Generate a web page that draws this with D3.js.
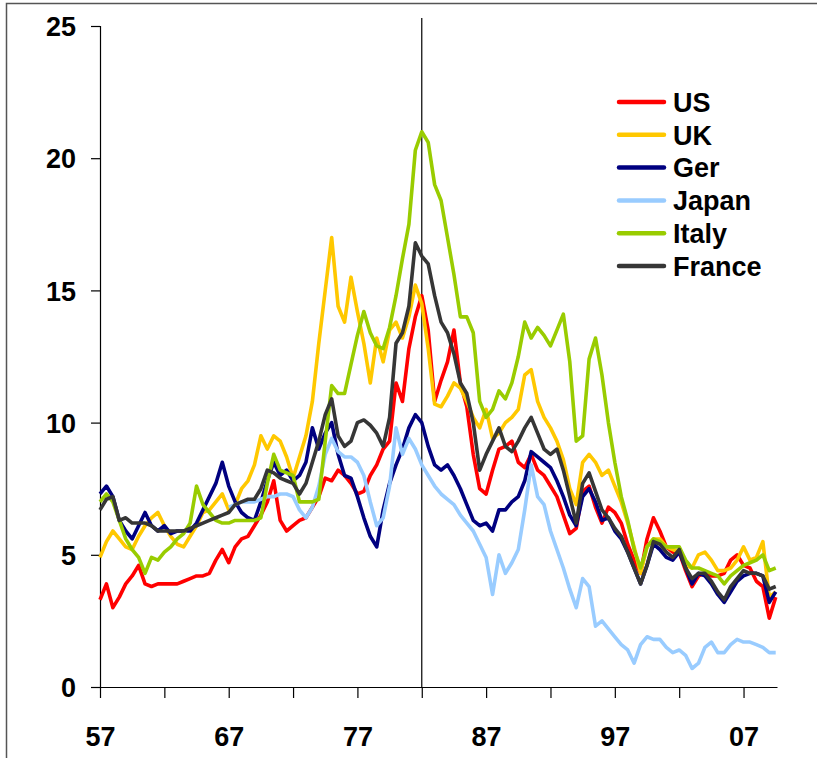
<!DOCTYPE html>
<html>
<head>
<meta charset="utf-8">
<script src="https://cdn.jsdelivr.net/npm/d3@7"></script>
<style>
  body { margin: 0; background: #fff; }
  svg { display: block; font-family: "Liberation Sans", Arial, sans-serif; }
</style>
</head>
<body>
<svg id="chart" width="817" height="758"></svg>
<script>
// half-yearly readings, 1957.0 .. 2009.5
const startYear = 1957;
const step = 0.5;

const us = [
  3.3, 3.9, 3.0, 3.4, 3.9, 4.2, 4.6, 3.9, 3.8, 3.9,
  3.9, 3.9, 3.9, 4.0, 4.1, 4.2, 4.2, 4.3, 4.8, 5.2,
  4.7, 5.3, 5.6, 5.7, 6.1, 6.5, 7.0, 7.8, 6.3, 5.9,
  6.1, 6.3, 6.4, 6.8, 7.2, 7.9, 7.8, 8.2, 8.0, 7.7,
  7.3, 7.4, 8.0, 8.4, 9.0, 9.3, 11.5, 10.8, 12.8, 14.0,
  14.8, 13.5, 10.8, 11.6, 12.3, 13.5, 11.5, 10.6, 8.8, 7.5,
  7.3, 8.2, 9.0, 9.1, 9.3, 8.5, 8.3, 8.8, 8.2, 8.0,
  7.6, 7.2, 6.5, 5.8, 6.0, 7.4, 7.6, 6.8, 6.2, 6.8,
  6.6, 6.2, 5.4, 4.8, 4.3, 5.6, 6.4, 5.9, 5.3, 5.1,
  5.1, 4.4, 3.8, 4.2, 4.3, 4.2, 4.2, 4.3, 4.8, 5.0,
  4.6, 4.5, 4.0, 3.8, 2.6, 3.4
];

const uk = [
  4.9, 5.5, 5.9, 5.6, 5.3, 5.2, 5.7, 6.1, 6.4, 6.6,
  6.1, 5.7, 5.4, 5.3, 5.7, 6.1, 6.6, 6.7, 7.0, 7.3,
  6.7, 6.9, 7.5, 7.8, 8.4, 9.5, 9.0, 9.5, 9.3, 8.7,
  7.9, 8.7, 9.5, 10.8, 13.0, 15.0, 17.0, 14.4, 13.8, 15.5,
  14.2, 13.0, 11.5, 13.2, 12.3, 13.5, 13.8, 13.2, 14.0, 15.2,
  14.5, 12.8, 10.7, 10.6, 11.0, 11.5, 11.3, 10.8, 10.2, 9.8,
  10.5, 9.4, 9.6, 10.0, 10.2, 10.5, 11.8, 12.0, 10.8, 10.2,
  9.8, 9.3, 8.6, 7.5, 6.9, 8.5, 8.8, 8.5, 8.0, 8.2,
  7.6, 7.0, 6.2, 5.3, 4.3, 5.3, 5.6, 5.6, 5.3, 5.2,
  5.1, 4.6, 4.5, 5.0, 5.1, 4.8, 4.4, 4.4, 4.5, 4.8,
  5.3, 4.8, 4.9, 5.5, 3.4, 3.6
];

const ger = [
  7.3, 7.6, 7.2, 6.3, 5.9, 5.6, 6.1, 6.6, 6.1, 5.9,
  6.1, 5.8, 5.9, 5.9, 5.9, 6.2, 6.7, 7.2, 7.7, 8.5,
  7.6, 7.0, 6.6, 6.4, 6.3, 7.0, 7.8, 8.5, 8.0, 8.2,
  7.8, 8.0, 8.5, 9.8, 9.0, 9.6, 10.0, 8.8, 8.0, 7.9,
  7.2, 6.4, 5.7, 5.3, 6.7, 7.7, 8.4, 9.0, 9.8, 10.3,
  10.0, 9.1, 8.4, 8.2, 8.4, 8.0, 7.5, 6.9, 6.3, 6.1,
  6.2, 5.9, 6.7, 6.7, 7.0, 7.2, 7.8, 8.9, 8.7, 8.5,
  8.3, 7.8, 7.2, 6.5, 6.1, 7.2, 7.5, 7.0, 6.3, 6.4,
  5.9, 5.6, 5.1, 4.5, 3.9, 4.6, 5.4, 5.2, 4.9, 4.8,
  5.1, 4.5, 3.9, 4.3, 4.2, 3.9, 3.5, 3.2, 3.6, 4.0,
  4.2, 4.3, 4.3, 4.2, 3.2, 3.6
];

const japan = [
  null, null, null, null, null, null, null, null, null, null,
  null, null, null, null, null, null, null, null, null, null,
  6.8, 6.9, 7.0, 7.0, 7.0, 7.1, 7.2, 7.2, 7.3, 7.3,
  7.2, 6.7, 6.4, 6.8, 7.6, 8.8, 9.4, 8.9, 8.7, 8.7,
  8.5, 8.0, 7.0, 6.1, 6.4, 7.6, 9.8, 8.8, 9.4, 9.0,
  8.4, 8.0, 7.6, 7.3, 7.1, 6.9, 6.5, 6.2, 5.9, 5.4,
  4.9, 3.5, 5.0, 4.3, 4.7, 5.2, 6.7, 8.4, 7.2, 6.9,
  5.9, 5.2, 4.5, 3.7, 3.0, 4.1, 3.8, 2.3, 2.5, 2.2,
  1.9, 1.6, 1.4, 0.9, 1.6, 1.9, 1.8, 1.8, 1.5, 1.3,
  1.4, 1.2, 0.7, 0.9, 1.5, 1.7, 1.3, 1.3, 1.6, 1.8,
  1.7, 1.7, 1.6, 1.5, 1.3, 1.3
];

const italy = [
  7.0, 7.3, 7.0, 6.3, 5.6, 5.2, 4.9, 4.3, 4.9, 4.8,
  5.1, 5.3, 5.6, 5.8, 6.2, 7.6, 6.9, 6.6, 6.3, 6.2,
  6.2, 6.3, 6.3, 6.3, 6.3, 6.4, 7.7, 8.8, 8.2, 8.1,
  8.0, 7.0, 7.0, 7.0, 7.1, 9.3, 11.4, 11.1, 11.1, 12.2,
  13.3, 14.2, 13.4, 12.9, 12.8, 13.6, 14.8, 16.2, 17.5, 20.3,
  21.0, 20.6, 19.0, 18.4, 17.0, 15.6, 14.0, 14.0, 13.4, 10.8,
  10.2, 10.5, 11.2, 10.9, 11.5, 12.5, 13.8, 13.2, 13.6, 13.3,
  12.9, 13.5, 14.1, 12.3, 9.3, 9.5, 12.4, 13.2, 11.8, 10.0,
  8.5, 7.2, 6.3, 5.2, 4.5, 5.3, 5.6, 5.5, 5.3, 5.3,
  5.3, 4.8, 4.5, 4.5, 4.4, 4.3, 4.2, 3.9, 4.2, 4.4,
  4.6, 4.7, 4.8, 5.0, 4.4, 4.5
];

const france = [
  6.7, 7.1, 7.2, 6.3, 6.4, 6.2, 6.2, 6.2, 6.1, 5.9,
  5.9, 5.9, 5.9, 5.9, 6.0, 6.1, 6.2, 6.3, 6.4, 6.5,
  6.6, 6.9, 7.0, 7.1, 7.1, 7.5, 8.2, 8.1, 7.9, 7.8,
  7.7, 7.3, 7.7, 8.5, 9.3, 10.3, 10.9, 9.5, 9.1, 9.3,
  10.0, 10.1, 9.9, 9.6, 9.1, 10.2, 13.0, 13.4, 14.4, 16.8,
  16.3, 16.0, 14.8, 13.8, 13.4, 12.6, 11.5, 11.1, 10.0, 8.2,
  8.8, 9.3, 9.8, 9.1, 8.9, 9.3, 9.8, 10.2, 9.6, 9.0,
  8.8, 9.0, 8.2, 7.2, 6.2, 7.7, 8.1, 7.4, 6.7, 6.4,
  6.0, 5.7, 5.1, 4.5, 3.9, 4.6, 5.5, 5.4, 5.1, 4.9,
  5.2, 4.5, 4.1, 4.3, 4.3, 4.0, 3.6, 3.3, 3.8, 4.1,
  4.4, 4.3, 4.3, 4.2, 3.7, 3.8
];

const seriesNames = ["US", "UK", "Ger", "Japan", "Italy", "France"];
const seriesValues = [us, uk, ger, japan, italy, france];
const seriesColors = ["#ff0000", "#ffc800", "#000080", "#99ccff", "#99cc00", "#363636"];

const yTicks = [0, 5, 10, 15, 20, 25];
const xTicks = [1957, 1962, 1967, 1972, 1977, 1982, 1987, 1992, 1997, 2002, 2007];
const xLabels = ["57", "67", "77", "87", "97", "07"];
const markerYear = 1982;

var svg = d3.select("#chart");

// outer frame (top and left edges only are visible in the picture)
svg.append("path")
  .attr("d", "M6.5,758 L6.5,3.5 L817,3.5")
  .attr("fill", "none")
  .attr("stroke", "#555")
  .attr("stroke-width", 1.5);

var x = d3.scaleLinear().domain([1957, 2009.6]).range([100, 777]);
var y = d3.scaleLinear().domain([0, 25]).range([687, 26]);

// y axis
var yAxis = d3.axisLeft(y).tickValues(yTicks).tickSize(9).tickPadding(15);
var gy = svg.append("g").attr("transform", "translate(100,0)").call(yAxis);
gy.select(".domain").attr("stroke", "#000").attr("stroke-width", 1.2).attr("d", "M-9,26.5H0.5V687");
gy.selectAll(".tick line").attr("stroke", "#000").attr("stroke-width", 1.2);
gy.selectAll(".tick text")
  .attr("fill", "#000")
  .style("font-size", "27px")
  .style("font-weight", "bold")
  .attr("dy", "0.36em");

// x axis
var xAxis = d3.axisBottom(x).tickValues(xTicks).tickSize(11).tickSizeOuter(0)
  .tickFormat(function (d) {
    var lbl = String(d % 100).padStart(2, "0");
    return xLabels.indexOf(lbl) >= 0 && (d - 1957) % 10 === 0 ? lbl : "";
  });
var gx = svg.append("g").attr("transform", "translate(0,687)").call(xAxis);
gx.select(".domain").attr("stroke", "#000").attr("stroke-width", 1.2);
gx.selectAll(".tick line").attr("stroke", "#000").attr("stroke-width", 1.2);
gx.selectAll(".tick text")
  .attr("fill", "#000")
  .attr("y", 40)
  .style("font-size", "27px")
  .style("font-weight", "bold");

// marker line at 1982
svg.append("line")
  .attr("x1", x(markerYear)).attr("x2", x(markerYear))
  .attr("y1", 18).attr("y2", 687)
  .attr("stroke", "#000")
  .attr("stroke-width", 1.2);

// series lines
var line = d3.line()
  .defined(function (d) { return d != null; })
  .x(function (d, i) { return x(startYear + i * step); })
  .y(function (d) { return y(d); })
  .curve(d3.curveLinear);

seriesValues.forEach(function (vals, k) {
  svg.append("path")
    .datum(vals)
    .attr("d", line)
    .attr("fill", "none")
    .attr("stroke", seriesColors[k])
    .attr("stroke-width", 3.6)
    .attr("stroke-linejoin", "round");
});

// legend
var legend = svg.append("g").attr("transform", "translate(617,102)");
seriesNames.forEach(function (name, k) {
  var g = legend.append("g").attr("transform", "translate(0," + (k * 32.8) + ")");
  g.append("line")
    .attr("x1", 2).attr("x2", 47)
    .attr("stroke", seriesColors[k])
    .attr("stroke-width", 4.5)
    .attr("stroke-linecap", "round");
  g.append("text")
    .attr("x", 56)
    .attr("dy", "0.36em")
    .style("font-size", "27px")
    .style("font-weight", "bold")
    .attr("fill", "#000")
    .text(name);
});
</script>
</body>
</html>
